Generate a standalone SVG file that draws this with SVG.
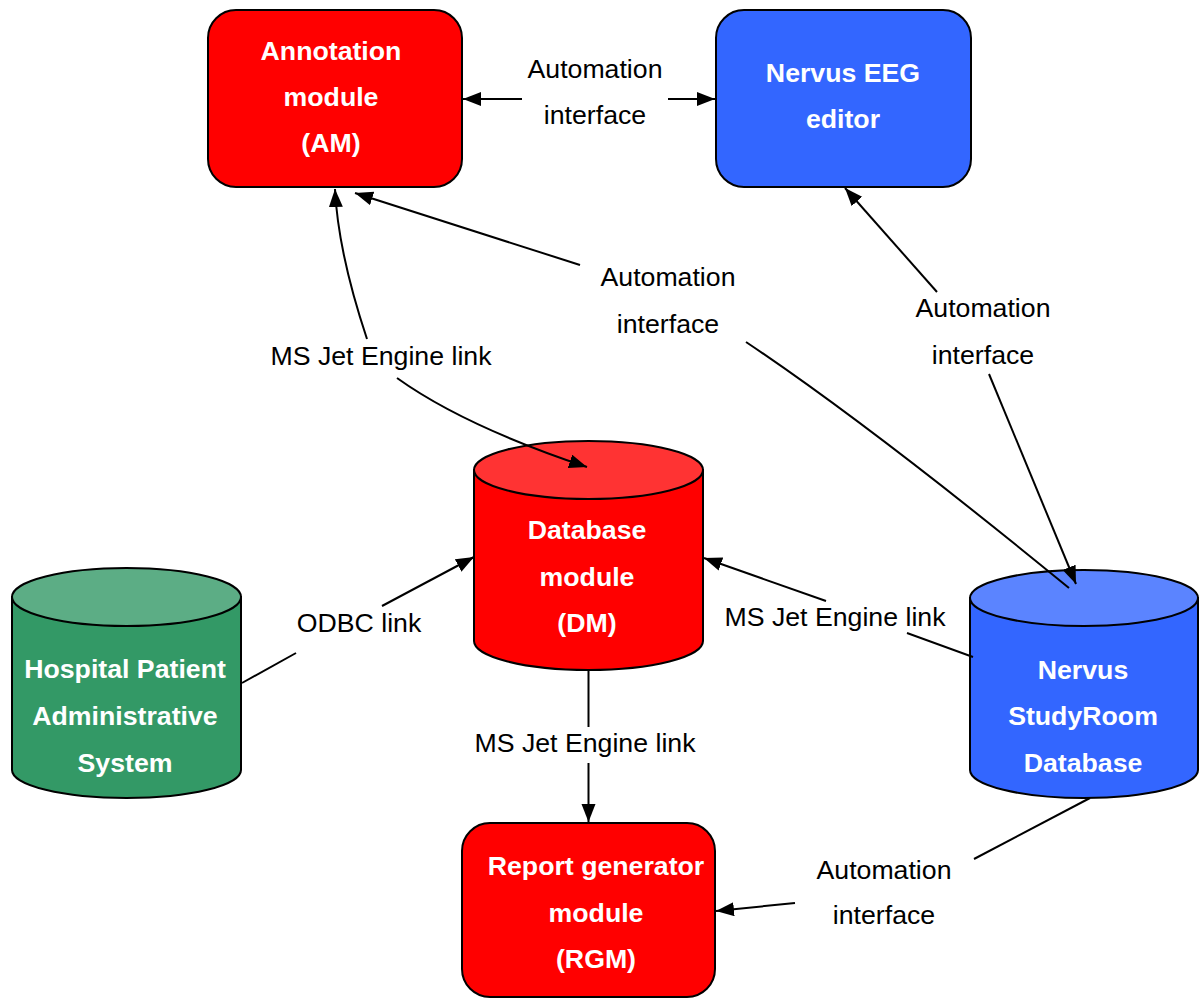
<svg xmlns="http://www.w3.org/2000/svg" width="1199" height="998" viewBox="0 0 1199 998">
<style>
.t{font-family:"Liberation Sans",Arial,sans-serif;font-size:26.7px;text-anchor:middle}
.lbl{fill:#000}
.nl{fill:#fff;font-weight:bold}
.box{stroke:#000;stroke-width:2}
.c{fill:none;stroke:#000;stroke-width:2}
</style>
<defs>
<marker id="ah" markerUnits="userSpaceOnUse" markerWidth="20" markerHeight="16" refX="18" refY="7" orient="auto"><path d="M0,0 L18,7 L0,14 z" fill="#000"/></marker>
</defs>
<rect width="1199" height="998" fill="#fff"/>
<g id="am">
<rect class="box" x="208" y="10" width="254" height="177" rx="28" fill="#ff0000"/>
<text class="t nl" x="331" y="60">Annotation</text>
<text class="t nl" x="331" y="106">module</text>
<text class="t nl" x="331" y="152">(AM)</text>
</g>
<g id="eeg">
<rect class="box" x="716" y="10" width="255" height="177" rx="28" fill="#3366ff"/>
<text class="t nl" x="843" y="82">Nervus EEG</text>
<text class="t nl" x="843" y="128">editor</text>
</g>
<g id="dm">
<path class="box" d="M474,470 L474,641 A114.5,29 0 0 0 703,641 L703,470 Z" fill="#ff0000"/>
<ellipse class="box" cx="588.5" cy="470" rx="114.5" ry="29" fill="#ff3333"/>
<text class="t nl" x="587" y="539">Database</text>
<text class="t nl" x="587" y="586">module</text>
<text class="t nl" x="587" y="632">(DM)</text>
</g>
<g id="hpas">
<path class="box" d="M12,597 L12,770 A114.5,28 0 0 0 241,770 L241,597 Z" fill="#339966"/>
<ellipse class="box" cx="126.5" cy="597" rx="114.5" ry="29" fill="#5cad85"/>
<text class="t nl" x="125" y="678">Hospital Patient</text>
<text class="t nl" x="125" y="725">Administrative</text>
<text class="t nl" x="125" y="772">System</text>
</g>
<g id="studyroom">
<path class="box" d="M970,598 L970,770 A114,28 0 0 0 1198,770 L1198,598 Z" fill="#3366ff"/>
<ellipse class="box" cx="1084" cy="598" rx="114" ry="28" fill="#5b84ff"/>
<text class="t nl" x="1083" y="679">Nervus</text>
<text class="t nl" x="1083" y="725">StudyRoom</text>
<text class="t nl" x="1083" y="772">Database</text>
</g>
<g id="rgm">
<rect class="box" x="462" y="823" width="253" height="174" rx="28" fill="#ff0000"/>
<text class="t nl" x="596" y="875">Report generator</text>
<text class="t nl" x="596" y="922">module</text>
<text class="t nl" x="596" y="968">(RGM)</text>
</g>
<g id="connectors">
<path class="c" d="M522,99 L463,99" marker-end="url(#ah)"/>
<path class="c" d="M668,99 L715,99" marker-end="url(#ah)"/>
<path class="c" d="M367,339 Q338,252 335,189" marker-end="url(#ah)"/>
<path class="c" d="M397,378 Q464,426 587,467" marker-end="url(#ah)"/>
<path class="c" d="M580,265 L355,193" marker-end="url(#ah)"/>
<path class="c" d="M746,342 Q870,425 1069,588"/>
<path class="c" d="M937,292 L845,188" marker-end="url(#ah)"/>
<path class="c" d="M989,374 L1076,584" marker-end="url(#ah)"/>
<path class="c" d="M242,683 L296,653"/>
<path class="c" d="M382,606 L474,557" marker-end="url(#ah)"/>
<path class="c" d="M588.5,671 L588.5,727"/>
<path class="c" d="M588.5,763 L588.5,822" marker-end="url(#ah)"/>
<path class="c" d="M973,657 L907,633"/>
<path class="c" d="M826,601 L704,558" marker-end="url(#ah)"/>
<path class="c" d="M1090,798 L974,859"/>
<path class="c" d="M795,903 L716,911" marker-end="url(#ah)"/>
<text class="t lbl" x="595" y="78">Automation</text>
<text class="t lbl" x="595" y="124">interface</text>
<text class="t lbl" x="668" y="286">Automation</text>
<text class="t lbl" x="668" y="333">interface</text>
<text class="t lbl" x="983" y="317">Automation</text>
<text class="t lbl" x="983" y="364">interface</text>
<text class="t lbl" x="381" y="365">MS Jet Engine link</text>
<text class="t lbl" x="359" y="632">ODBC link</text>
<text class="t lbl" x="835" y="626">MS Jet Engine link</text>
<text class="t lbl" x="585" y="752">MS Jet Engine link</text>
<text class="t lbl" x="884" y="879">Automation</text>
<text class="t lbl" x="884" y="924">interface</text>
</g>
</svg>
